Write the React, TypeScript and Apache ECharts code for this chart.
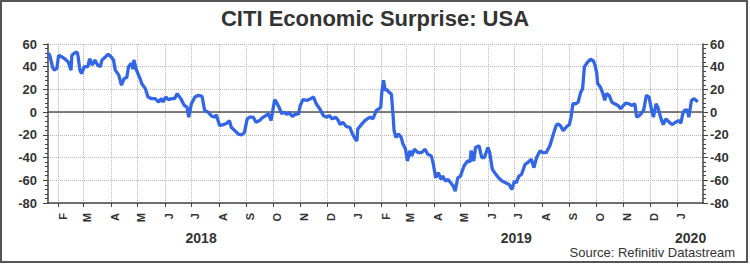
import React, { useEffect, useRef } from "react";
import * as echarts from "echarts";

const TITLE = "CITI Economic Surprise: USA";
const SOURCE = "Source: Refinitiv Datastream";
const AXIS_START = "2018-01-20";
const AXIS_END = "2020-01-30";
const MONTH_LETTERS = ["J", "F", "M", "A", "M", "J", "J", "A", "S", "O", "N", "D"];
const Y_MIN = -80;
const Y_MAX = 60;
const Y_STEP = 20;

const dates2018 = [
  "2018-01-20", "2018-01-22", "2018-01-25", "2018-01-27", "2018-01-30", "2018-02-01", "2018-02-04", "2018-02-08",
  "2018-02-12", "2018-02-15", "2018-02-16", "2018-02-19", "2018-02-22", "2018-02-23", "2018-02-25", "2018-02-27",
  "2018-03-02", "2018-03-06", "2018-03-08", "2018-03-11", "2018-03-14", "2018-03-17", "2018-03-20", "2018-03-22",
  "2018-03-25", "2018-03-29", "2018-04-01", "2018-04-04", "2018-04-06", "2018-04-10", "2018-04-13", "2018-04-16",
  "2018-04-19", "2018-04-21", "2018-04-24", "2018-04-26", "2018-04-27", "2018-04-30", "2018-05-04", "2018-05-06",
  "2018-05-10", "2018-05-13", "2018-05-17", "2018-05-21", "2018-05-25", "2018-05-28", "2018-05-30", "2018-06-02",
  "2018-06-05", "2018-06-09", "2018-06-12", "2018-06-15", "2018-06-19", "2018-06-23", "2018-06-26", "2018-06-28",
  "2018-07-01", "2018-07-05", "2018-07-09", "2018-07-13", "2018-07-16", "2018-07-20", "2018-07-24", "2018-07-28",
  "2018-07-29", "2018-08-02", "2018-08-06", "2018-08-10", "2018-08-13", "2018-08-15", "2018-08-19", "2018-08-23",
  "2018-08-27", "2018-08-30", "2018-09-02", "2018-09-05", "2018-09-09", "2018-09-12", "2018-09-16", "2018-09-19",
  "2018-09-23", "2018-09-26", "2018-09-29", "2018-10-01", "2018-10-03", "2018-10-05", "2018-10-08", "2018-10-11",
  "2018-10-13", "2018-10-17", "2018-10-19", "2018-10-23", "2018-10-26", "2018-10-30", "2018-11-01", "2018-11-04",
  "2018-11-09", "2018-11-13", "2018-11-16", "2018-11-19", "2018-11-23", "2018-11-27", "2018-12-01", "2018-12-04",
  "2018-12-07", "2018-12-11", "2018-12-14", "2018-12-16", "2018-12-19", "2018-12-23", "2018-12-27", "2018-12-30",
];
const values2018 = [
  52, 50, 40, 37, 38.5, 50, 49, 47,
  44, 37, 50, 52, 53, 49, 37, 34,
  40, 40, 47, 41.5, 46, 41.5, 40, 46,
  48, 51, 49, 46, 37, 32.6, 23.7, 29.6,
  30.5, 40, 43, 38, 46, 37, 29.6, 25,
  20.7, 13.3, 11.9, 11.9, 8.9, 11.9, 8.9, 13.3,
  11, 11.9, 11.9, 16.3, 11.9, 5.9, 4.4, -4.4,
  7.4, 13.3, 14.8, 14, 1.5, 0, -3.6, -4.4,
  -2, -11.9, -11, -9.8, -7.4, -13.3, -16.3, -19.3,
  -20, -17.8, -5.9, -4.4, -4.4, -8.9, -7.4, -5,
  -3, -1.5, -7.4, 1.5, 11, 8.9, 4.4, -1.5,
  0, -2, 0, -3.9, -2, -1.5, 5.9, 11,
  10.4, 11.9, 13.3, 7.4, 3, -3, -4.4, -3,
  -5.9, -4.4, -7.4, -11, -8.9, -12.7, -13.3, -19.3,
];

const dates2019 = [
  "2019-01-02", "2019-01-04", "2019-01-05", "2019-01-09", "2019-01-13", "2019-01-17", "2019-01-19", "2019-01-22",
  "2019-01-26", "2019-01-29", "2019-01-31", "2019-02-01", "2019-02-03", "2019-02-05", "2019-02-07", "2019-02-09",
  "2019-02-12", "2019-02-14", "2019-02-15", "2019-02-17", "2019-02-20", "2019-02-23", "2019-02-25", "2019-02-28",
  "2019-03-02", "2019-03-05", "2019-03-07", "2019-03-10", "2019-03-14", "2019-03-18", "2019-03-22", "2019-03-25",
  "2019-03-29", "2019-03-31", "2019-04-03", "2019-04-06", "2019-04-09", "2019-04-11", "2019-04-14", "2019-04-17",
  "2019-04-20", "2019-04-23", "2019-04-25", "2019-04-28", "2019-05-01", "2019-05-05", "2019-05-09", "2019-05-12",
  "2019-05-13", "2019-05-16", "2019-05-18", "2019-05-22", "2019-05-25", "2019-05-28", "2019-06-01", "2019-06-03",
  "2019-06-06", "2019-06-10", "2019-06-13", "2019-06-17", "2019-06-21", "2019-06-25", "2019-06-28", "2019-07-01",
  "2019-07-03", "2019-07-06", "2019-07-09", "2019-07-13", "2019-07-16", "2019-07-20", "2019-07-23", "2019-07-26",
  "2019-07-30", "2019-08-02", "2019-08-06", "2019-08-10", "2019-08-14", "2019-08-17", "2019-08-19", "2019-08-22",
  "2019-08-25", "2019-08-29", "2019-09-01", "2019-09-03", "2019-09-05", "2019-09-08", "2019-09-11", "2019-09-14",
  "2019-09-16", "2019-09-18", "2019-09-22", "2019-09-25", "2019-09-28", "2019-09-30", "2019-10-02", "2019-10-03",
  "2019-10-06", "2019-10-09", "2019-10-11", "2019-10-13", "2019-10-16", "2019-10-19", "2019-10-22", "2019-10-26",
  "2019-10-29", "2019-11-01", "2019-11-04", "2019-11-07", "2019-11-11", "2019-11-14", "2019-11-16", "2019-11-19",
  "2019-11-21", "2019-11-24", "2019-11-27", "2019-11-30", "2019-12-03", "2019-12-05", "2019-12-08", "2019-12-10",
  "2019-12-13", "2019-12-16", "2019-12-19", "2019-12-23", "2019-12-26", "2019-12-30",
];
const values2019 = [
  -23.7, -25.2, -14.8, -11, -7.4, -5.3, -4.4, -5.9,
  1.5, 3, 4.4, 16.3, 28.1, 19.3, 19.9, 17.8,
  15.7, -4.4, -16.3, -22.2, -19.3, -22.2, -28.1, -32.6,
  -43, -34, -38.5, -32.6, -35.6, -35.6, -32.6, -37,
  -38.5, -44.4, -57.8, -53.3, -59.3, -56.3, -60.7, -59.3,
  -62.2, -65.2, -69.6, -57.8, -56.3, -47.4, -43, -43.5,
  -34, -43, -31.1, -29.6, -40, -40, -31.1, -35.6,
  -50.4, -54.8, -57.8, -60.7, -62.2, -63.7, -68.1, -60.7,
  -62.2, -56.3, -54.8, -45.9, -44.4, -41.5, -48.9, -40,
  -34, -35.6, -35.6, -29.6, -19.3, -11.9, -10.4, -11.9,
  -16.3, -12.7, -11, -4.4, 7.4, 7.4, 8.9, 17.8,
  20.7, 40, 44.4, 46.5, 45.3, 41.5, 34, 25.2,
  22.2, 16.3, 10.4, 16.3, 14.8, 8.9, 7.4, 5.9,
  3, 5.9, 8, 7.4, 5.9, 7.4, -4.4, -3,
  -1.5, 2, 14.8, 13.3, 1.5, -4.4, 7.4, 4.4,
  -4.4, -11, -5.9, -8.9, -11, -8.9,
];

const dates2020 = [
  "2020-01-03", "2020-01-05", "2020-01-07", "2020-01-09", "2020-01-12", "2020-01-14", "2020-01-17", "2020-01-20",
  "2020-01-23", "2020-01-24",
];
const values2020 = [-7.4, -9.8, -2, 1.5, 2, -4.4, 10.4, 11.9, 9.8, 9];

const FONT = "'Liberation Sans', Arial, Helvetica, sans-serif";

function buildDays(start: string, end: string): string[] {
  const out: string[] = [];
  const d = new Date(start + "T00:00:00Z");
  const e = new Date(end + "T00:00:00Z");
  while (d.getTime() <= e.getTime()) {
    out.push(d.toISOString().slice(0, 10));
    d.setUTCDate(d.getUTCDate() + 1);
  }
  return out;
}

export default function App() {
  const ref = useRef<HTMLDivElement>(null);

  useEffect(() => {
    if (!ref.current) return;
    const chart = echarts.init(ref.current, undefined, { renderer: "svg" });

    const days = buildDays(AXIS_START, AXIS_END);
    const allDates = [...dates2018, ...dates2019, ...dates2020];
    const allValues = [...values2018, ...values2019, ...values2020];
    const pairs = allDates.map((d, i) => [d, allValues[i]]);

    const isMonthStart = (_i: number, v: string) => v.slice(8, 10) === "01";
    const monthLetter = (v: string) => MONTH_LETTERS[parseInt(v.slice(5, 7), 10) - 1];

    // year label positions: middle of each year's visible span
    const yearMid = new Set<number>();
    const years: string[] = [];
    days.forEach((d) => {
      const y = d.slice(0, 4);
      if (!years.includes(y)) years.push(y);
    });
    years.forEach((y, k) => {
      const first = days.findIndex((d) => d.slice(0, 4) === y);
      const nextY = years[k + 1];
      const end = nextY ? days.findIndex((d) => d.slice(0, 4) === nextY) : days.length - 1;
      yearMid.add(Math.round((first + end) / 2));
    });

    const axisColor = "#444";
    const gridColor = "#b8b8b8";

    const yAxisBase = {
      type: "value",
      min: Y_MIN,
      max: Y_MAX,
      interval: Y_STEP,
      axisLine: { show: true, lineStyle: { color: axisColor, width: 1.5 } },
      axisTick: { show: true, length: 5, lineStyle: { color: axisColor } },
      minorTick: { show: true, splitNumber: 5, length: 3, lineStyle: { color: axisColor } },
    };

    chart.setOption({
      animation: false,
      backgroundColor: "#ffffff",
      textStyle: { fontFamily: FONT },
      title: {
        text: TITLE,
        left: "center",
        top: 2,
        textStyle: { fontSize: 22, fontWeight: "bold", color: "#333", fontFamily: FONT },
      },
      grid: { left: 48, right: 47, top: 44, bottom: 64, containLabel: false },
      xAxis: [
        {
          type: "category",
          data: days,
          boundaryGap: false,
          position: "bottom",
          axisLine: { show: true, onZero: false, lineStyle: { color: axisColor, width: 1.5 } },
          axisTick: { show: true, interval: isMonthStart, length: 4, lineStyle: { color: axisColor } },
          axisLabel: {
            interval: isMonthStart,
            formatter: monthLetter,
            rotate: 90,
            margin: 10,
            verticalAlign: "top",
            lineHeight: 8,
            fontSize: 11,
            fontWeight: "bold",
            color: "#333",
            fontFamily: FONT,
          },
          splitLine: { show: true, interval: isMonthStart, lineStyle: { color: gridColor, type: "dotted", width: 1 } },
        },
        {
          type: "category",
          data: days,
          boundaryGap: false,
          position: "bottom",
          axisLine: { show: false },
          axisTick: { show: false },
          splitLine: { show: false },
          axisLabel: {
            interval: (i: number) => yearMid.has(i),
            formatter: (v: string) => v.slice(0, 4),
            margin: 28,
            fontSize: 14,
            fontWeight: "bold",
            color: "#333",
            fontFamily: FONT,
          },
        },
      ],
      yAxis: [
        {
          ...yAxisBase,
          position: "left",
          axisLabel: { margin: 11, fontSize: 13, fontWeight: "bold", color: "#333", fontFamily: FONT },
          splitLine: { show: true, lineStyle: { color: gridColor, type: "dotted", width: 1 } },
        },
        {
          ...yAxisBase,
          position: "right",
          axisLabel: { margin: 7, fontSize: 13, fontWeight: "bold", color: "#333", fontFamily: FONT },
          splitLine: { show: false },
        },
      ],
      series: [
        {
          type: "line",
          xAxisIndex: 0,
          yAxisIndex: 0,
          data: pairs,
          showSymbol: false,
          symbol: "none",
          connectNulls: true,
          lineStyle: { color: "#3366e6", width: 3.3 },
          itemStyle: { color: "#3366e6" },
          z: 3,
          markLine: {
            silent: true,
            symbol: "none",
            z: 1,
            label: { show: false },
            lineStyle: { color: "#555", type: "solid", width: 1.5 },
            data: [{ yAxis: 0 }],
          },
        },
      ],
      graphic: [
        {
          type: "rect",
          silent: true,
          shape: { x: 1, y: 1, width: 746, height: 261 },
          style: { fill: "none", stroke: "#555", lineWidth: 2 },
        },
        {
          type: "text",
          right: 15,
          top: 246,
          silent: true,
          style: { text: SOURCE, fontSize: 13, fill: "#333", fontFamily: FONT },
        },
      ],
    });

    return () => chart.dispose();
  }, []);

  return (
    <div
      ref={ref}
      style={{ position: "fixed", left: 0, top: 0, width: 750, height: 267, background: "#fff" }}
    />
  );
}
